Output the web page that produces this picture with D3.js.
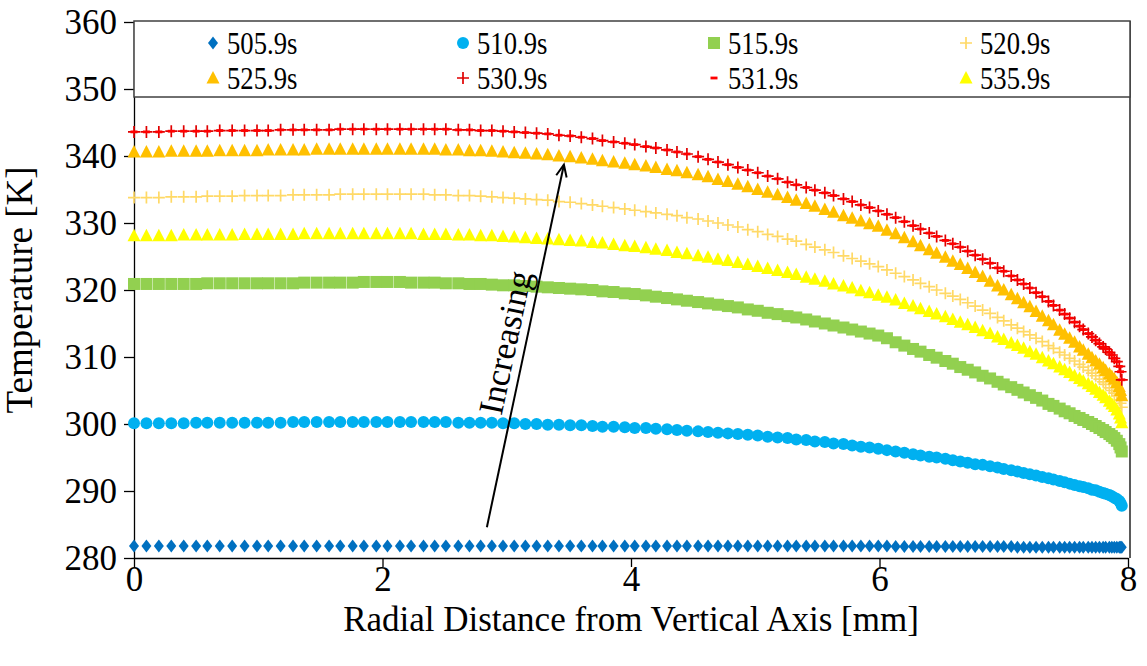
<!DOCTYPE html>
<html>
<head>
<meta charset="utf-8">
<script src="https://cdn.jsdelivr.net/npm/d3@7"></script>
<style>
  body { margin: 0; background: #fff; }
</style>
</head>
<body>
<svg id="chart" width="1147" height="666"></svg>
<script>
// radial positions of the mesh nodes [mm] (shared by every series)
const radius = [
  0, 0.10, 0.20, 0.30, 0.40, 0.50, 0.59, 0.69, 0.79, 0.89,
  0.99, 1.08, 1.18, 1.28, 1.37, 1.47, 1.57, 1.66, 1.76, 1.85,
  1.95, 2.04, 2.14, 2.23, 2.33, 2.42, 2.51, 2.61, 2.70, 2.79,
  2.88, 2.97, 3.06, 3.15, 3.24, 3.33, 3.42, 3.51, 3.60, 3.69,
  3.77, 3.86, 3.95, 4.03, 4.12, 4.20, 4.29, 4.37, 4.45, 4.54,
  4.62, 4.70, 4.78, 4.86, 4.94, 5.02, 5.10, 5.18, 5.26, 5.33,
  5.41, 5.48, 5.56, 5.63, 5.71, 5.78, 5.85, 5.92, 5.99, 6.06,
  6.13, 6.20, 6.27, 6.33, 6.40, 6.46, 6.53, 6.59, 6.65, 6.71,
  6.77, 6.83, 6.89, 6.95, 7.00, 7.06, 7.11, 7.16, 7.21, 7.26,
  7.31, 7.36, 7.40, 7.45, 7.49, 7.53, 7.57, 7.61, 7.64, 7.68,
  7.71, 7.74, 7.77, 7.80, 7.82, 7.85, 7.87, 7.89, 7.91, 7.93,
  7.94, 7.95
];

// temperature [K] at each node, one array per time step
const t505 = [
  281.8, 281.8, 281.8, 281.8, 281.8, 281.8, 281.8, 281.8, 281.8, 281.8,
  281.8, 281.8, 281.8, 281.8, 281.8, 281.8, 281.8, 281.8, 281.8, 281.8,
  281.8, 281.8, 281.8, 281.8, 281.8, 281.8, 281.8, 281.8, 281.8, 281.8,
  281.8, 281.8, 281.8, 281.8, 281.8, 281.8, 281.8, 281.8, 281.8, 281.8,
  281.8, 281.8, 281.8, 281.8, 281.8, 281.8, 281.8, 281.8, 281.8, 281.8,
  281.8, 281.8, 281.8, 281.8, 281.8, 281.8, 281.8, 281.8, 281.8, 281.8,
  281.8, 281.8, 281.8, 281.8, 281.8, 281.8, 281.8, 281.8, 281.8, 281.8,
  281.7, 281.7, 281.7, 281.7, 281.7, 281.7, 281.7, 281.7, 281.7, 281.7,
  281.7, 281.7, 281.7, 281.7, 281.7, 281.7, 281.6, 281.6, 281.6, 281.6,
  281.6, 281.6, 281.6, 281.6, 281.6, 281.6, 281.6, 281.6, 281.6, 281.6,
  281.6, 281.6, 281.6, 281.6, 281.6, 281.6, 281.6, 281.6, 281.6, 281.6,
  281.6, 281.6
];
const t510 = [
  300.1, 300.1, 300.1, 300.1, 300.1, 300.2, 300.2, 300.2, 300.2, 300.2,
  300.2, 300.2, 300.2, 300.3, 300.3, 300.3, 300.3, 300.3, 300.3, 300.3,
  300.3, 300.3, 300.3, 300.3, 300.3, 300.3, 300.3, 300.2, 300.2, 300.2,
  300.2, 300.1, 300.1, 300.0, 300.0, 299.9, 299.9, 299.8, 299.8, 299.7,
  299.6, 299.6, 299.5, 299.4, 299.4, 299.3, 299.2, 299.1, 299.0, 298.9,
  298.8, 298.7, 298.6, 298.5, 298.4, 298.3, 298.1, 298.0, 297.9, 297.7,
  297.6, 297.4, 297.3, 297.1, 297.0, 296.8, 296.6, 296.5, 296.3, 296.1,
  295.9, 295.7, 295.5, 295.3, 295.1, 295.0, 294.8, 294.6, 294.4, 294.2,
  294.0, 293.9, 293.7, 293.5, 293.3, 293.1, 292.9, 292.7, 292.5, 292.3,
  292.1, 291.9, 291.7, 291.5, 291.3, 291.1, 290.9, 290.7, 290.6, 290.4,
  290.2, 290.1, 289.9, 289.7, 289.6, 289.4, 289.2, 289.0, 288.8, 288.5,
  288.2, 287.8
];
const t515 = [
  320.9, 320.9, 320.9, 320.9, 320.9, 320.9, 321.0, 321.0, 321.0, 321.0,
  321.0, 321.0, 321.0, 321.0, 321.1, 321.1, 321.1, 321.1, 321.1, 321.2,
  321.2, 321.2, 321.2, 321.1, 321.1, 321.1, 321.0, 321.0, 320.9, 320.9,
  320.8, 320.7, 320.7, 320.6, 320.5, 320.4, 320.3, 320.2, 320.1, 320.0,
  319.8, 319.7, 319.5, 319.4, 319.2, 319.0, 318.8, 318.6, 318.4, 318.2,
  318.0, 317.8, 317.6, 317.4, 317.1, 316.9, 316.6, 316.4, 316.1, 315.9,
  315.6, 315.3, 315.0, 314.7, 314.4, 314.1, 313.8, 313.5, 313.2, 312.8,
  312.2, 311.7, 311.2, 310.8, 310.3, 309.9, 309.4, 309.0, 308.5, 308.1,
  307.7, 307.2, 306.8, 306.3, 305.9, 305.5, 305.1, 304.7, 304.3, 303.9,
  303.5, 303.0, 302.7, 302.3, 301.9, 301.6, 301.2, 300.9, 300.6, 300.3,
  300.0, 299.7, 299.4, 299.1, 298.8, 298.5, 298.2, 297.9, 297.5, 297.0,
  296.5, 295.9
];
const t520 = [
  333.8, 333.8, 333.8, 333.9, 333.9, 333.9, 334.0, 334.0, 334.0, 334.1,
  334.1, 334.1, 334.1, 334.2, 334.2, 334.2, 334.2, 334.3, 334.3, 334.3,
  334.3, 334.3, 334.3, 334.3, 334.3, 334.2, 334.2, 334.1, 334.1, 334.0,
  333.9, 333.8, 333.7, 333.6, 333.5, 333.4, 333.2, 333.1, 332.9, 332.7,
  332.5, 332.3, 332.1, 331.9, 331.7, 331.5, 331.3, 331.1, 330.8, 330.6,
  330.3, 330.0, 329.7, 329.4, 329.0, 328.7, 328.3, 328.0, 327.6, 327.3,
  326.8, 326.4, 326.0, 325.6, 325.1, 324.7, 324.3, 323.9, 323.5, 323.0,
  322.5, 322.0, 321.5, 321.0, 320.5, 320.0, 319.5, 319.1, 318.6, 318.1,
  317.6, 317.0, 316.5, 315.9, 315.4, 314.8, 314.3, 313.8, 313.3, 312.8,
  312.3, 311.7, 311.3, 310.7, 310.3, 309.8, 309.4, 308.9, 308.5, 308.0,
  307.6, 307.2, 306.7, 306.3, 305.9, 305.4, 305.0, 304.6, 304.2, 303.6,
  303.1, 302.5
];
const t525 = [
  340.6, 340.6, 340.6, 340.7, 340.7, 340.7, 340.7, 340.8, 340.8, 340.8,
  340.8, 340.9, 340.9, 340.9, 340.9, 341.0, 341.0, 341.0, 341.0, 341.0,
  341.0, 341.0, 341.0, 341.0, 341.0, 341.0, 340.9, 340.9, 340.8, 340.8,
  340.7, 340.6, 340.5, 340.4, 340.3, 340.2, 340.0, 339.9, 339.7, 339.5,
  339.3, 339.1, 338.9, 338.7, 338.5, 338.3, 338.0, 337.8, 337.5, 337.2,
  336.9, 336.5, 336.2, 335.8, 335.4, 335.0, 334.6, 334.2, 333.8, 333.4,
  332.9, 332.5, 332.0, 331.6, 331.1, 330.7, 330.3, 329.9, 329.5, 328.9,
  328.4, 327.8, 327.2, 326.6, 326.0, 325.5, 324.9, 324.3, 323.8, 323.2,
  322.6, 322.0, 321.3, 320.6, 320.0, 319.3, 318.7, 318.1, 317.5, 316.8,
  316.1, 315.4, 314.8, 314.0, 313.4, 312.8, 312.2, 311.5, 311.0, 310.4,
  309.9, 309.4, 308.9, 308.4, 308.0, 307.5, 307.1, 306.7, 306.2, 305.6,
  305.0, 304.2
];
const t530 = [
  343.6, 343.6, 343.6, 343.7, 343.7, 343.7, 343.7, 343.8, 343.8, 343.8,
  343.8, 343.8, 343.9, 343.9, 343.9, 343.9, 343.9, 344.0, 344.0, 344.0,
  344.0, 344.0, 344.0, 344.0, 344.0, 344.0, 344.0, 343.9, 343.9, 343.8,
  343.8, 343.7, 343.6, 343.5, 343.4, 343.3, 343.1, 343.0, 342.8, 342.6,
  342.3, 342.1, 341.9, 341.7, 341.4, 341.2, 340.9, 340.6, 340.3, 339.9,
  339.5, 339.1, 338.7, 338.3, 337.9, 337.5, 337.0, 336.6, 336.1, 335.7,
  335.3, 334.9, 334.5, 334.1, 333.6, 333.2, 332.7, 332.3, 331.8, 331.3,
  330.8, 330.2, 329.6, 329.1, 328.5, 328.0, 327.4, 326.9, 326.4, 325.8,
  325.2, 324.6, 324.0, 323.3, 322.8, 322.1, 321.5, 320.9, 320.3, 319.6,
  319.0, 318.3, 317.7, 317.0, 316.4, 315.8, 315.2, 314.6, 314.1, 313.5,
  313.0, 312.5, 312.0, 311.5, 311.2, 310.7, 310.3, 309.8, 309.3, 308.6,
  307.8, 306.6
];
const t531 = [
  343.6, 343.6, 343.6, 343.7, 343.7, 343.7, 343.7, 343.8, 343.8, 343.8,
  343.8, 343.8, 343.9, 343.9, 343.9, 343.9, 343.9, 344.0, 344.0, 344.0,
  344.0, 344.0, 344.0, 344.0, 344.0, 344.0, 344.0, 343.9, 343.9, 343.8,
  343.8, 343.7, 343.6, 343.5, 343.4, 343.3, 343.1, 343.0, 342.8, 342.6,
  342.3, 342.1, 341.9, 341.7, 341.4, 341.2, 340.9, 340.6, 340.3, 339.9,
  339.5, 339.1, 338.7, 338.3, 337.9, 337.5, 337.0, 336.6, 336.1, 335.7,
  335.3, 334.9, 334.5, 334.1, 333.6, 333.2, 332.7, 332.3, 331.8, 331.3,
  330.8, 330.2, 329.6, 329.1, 328.5, 328.0, 327.4, 326.9, 326.4, 325.8,
  325.2, 324.6, 324.0, 323.3, 322.8, 322.1, 321.5, 320.9, 320.3, 319.6,
  319.0, 318.3, 317.7, 317.0, 316.4, 315.8, 315.2, 314.6, 314.1, 313.5,
  313.0, 312.5, 312.0, 311.5, 311.2, 310.7, 310.3, 309.8, 309.3, 308.6,
  307.8, 306.6
];
const t535 = [
  328.1, 328.1, 328.1, 328.1, 328.2, 328.2, 328.2, 328.2, 328.2, 328.3,
  328.3, 328.3, 328.3, 328.3, 328.4, 328.4, 328.4, 328.4, 328.4, 328.4,
  328.4, 328.4, 328.4, 328.4, 328.3, 328.3, 328.3, 328.2, 328.2, 328.1,
  328.1, 328.0, 327.9, 327.8, 327.7, 327.6, 327.5, 327.4, 327.3, 327.1,
  327.0, 326.8, 326.6, 326.5, 326.3, 326.1, 325.9, 325.6, 325.4, 325.1,
  324.9, 324.6, 324.4, 324.1, 323.8, 323.5, 323.2, 322.9, 322.6, 322.3,
  321.9, 321.6, 321.3, 320.9, 320.6, 320.3, 319.9, 319.6, 319.2, 318.9,
  318.5, 318.0, 317.6, 317.2, 316.8, 316.4, 316.0, 315.6, 315.2, 314.8,
  314.4, 313.9, 313.5, 313.0, 312.6, 312.1, 311.7, 311.3, 310.8, 310.4,
  309.9, 309.4, 309.0, 308.5, 308.1, 307.7, 307.2, 306.8, 306.4, 306.0,
  305.6, 305.2, 304.7, 304.3, 303.9, 303.4, 303.0, 302.6, 302.1, 301.5,
  300.9, 300.2
];

const seriesNames = ['505.9s', '510.9s', '515.9s', '520.9s', '525.9s', '530.9s', '531.9s', '535.9s'];
const seriesColors = ['#0070C0', '#00B0F0', '#92D050', '#FFD966', '#FFC000', '#E00000', '#FF0000', '#FFFF00'];
const seriesShapes = ['diamond', 'circle', 'square', 'plus', 'triangle', 'plus', 'dash', 'triangle'];
const seriesValues = [t505, t510, t515, t520, t525, t530, t531, t535];

const xTicks = [0, 2, 4, 6, 8];
const yTicks = [280, 290, 300, 310, 320, 330, 340, 350, 360];

const series = seriesNames.map((name, i) => {
  return {
    name: name,
    color: seriesColors[i],
    shape: seriesShapes[i],
    points: radius.map((r, j) => { return { x: r, y: seriesValues[i][j] }; })
  };
});

const W = 1147, H = 666;
const margin = { left: 134, right: 17, top: 22, bottom: 108 };
const FONT_FAMILY = '"Liberation Serif", "Times New Roman", Times, serif';
const FONT = 35;

const svg = d3.select('#chart');

const xScale = d3.scaleLinear().domain([0, 8]).range([margin.left, W - margin.right - 2]);
const yScale = d3.scaleLinear().domain([280, 360]).range([H - margin.bottom, margin.top]);

function styleText(sel, size) {
  sel.style('font-family', FONT_FAMILY).style('font-size', `${ size }px`).style('fill', '#000');
}

function drawMarker(g, shape, color) {
  if (shape === 'diamond') {
    g.append('path').attr('d', 'M0,-6.5L5,0L0,6.5L-5,0Z').attr('fill', color);
  } else if (shape === 'circle') {
    g.append('circle').attr('r', 6).attr('fill', color);
  } else if (shape === 'square') {
    g.append('rect').attr('x', -6).attr('y', -6).attr('width', 12).attr('height', 12).attr('fill', color);
  } else if (shape === 'triangle') {
    g.append('path').attr('d', 'M0,-7L6.5,5.5L-6.5,5.5Z').attr('fill', color);
  } else if (shape === 'plus') {
    g.append('path').attr('d', 'M-6,0H6M0,-6V6')
      .attr('stroke', color).attr('stroke-width', 1.7).attr('fill', 'none');
  } else if (shape === 'dash') {
    g.append('rect').attr('x', -3.5).attr('y', -1.4).attr('width', 7).attr('height', 2.8).attr('fill', color);
  }
}

// axes
const yAxis = d3.axisLeft(yScale).tickValues(yTicks).tickSize(10).tickSizeOuter(0).tickPadding(7);
const xAxis = d3.axisBottom(xScale).tickValues(xTicks).tickSize(9).tickSizeOuter(0).tickPadding(-1);

const yAxisG = svg.append('g').attr('transform', `translate(${ margin.left },0)`).call(yAxis);
const xAxisG = svg.append('g').attr('transform', `translate(0,${ yScale(280) })`).call(xAxis);

[yAxisG, xAxisG].forEach((g) => {
  g.select('.domain').attr('stroke', '#000').attr('stroke-width', 1.3);
  g.selectAll('.tick line').attr('stroke', '#000').attr('stroke-width', 1.3);
  g.selectAll('.tick text').call(styleText, FONT);
});
yAxisG.selectAll('.tick text').attr('dy', '0.34em');

// right frame line
svg.append('line')
  .attr('x1', xScale(8) + 2).attr('x2', xScale(8) + 2)
  .attr('y1', yScale(360) - 1).attr('y2', yScale(280))
  .attr('stroke', '#000').attr('stroke-width', 1.3);

// series markers
const plot = svg.append('g').attr('class', 'g-chart-points');
series.forEach((s) => {
  const sg = plot.append('g').attr('class', `series series-${ s.name.replace('.', '-') }`);
  s.points.forEach((p) => {
    const g = sg.append('g').attr('transform', `translate(${ xScale(p.x) },${ yScale(p.y) })`);
    drawMarker(g, s.shape, s.color);
  });
});

// legend box across the top of the plot
const legendTop = yScale(360) - 1;
const legend = svg.append('g').attr('class', 'legend');
legend.append('rect')
  .attr('x', margin.left).attr('y', legendTop)
  .attr('width', xScale(8) + 2 - margin.left).attr('height', 76)
  .attr('fill', '#fff').attr('stroke', '#404040').attr('stroke-width', 1.5);

// legend labels are drawn narrower than the rest of the text
const legendCols = [213, 463, 714, 966];
const legendRows = [43, 78];
const legendSqueeze = 0.86;
series.forEach((s, i) => {
  const cx = legendCols[i % 4];
  const cy = legendRows[Math.floor(i / 4)];
  const g = legend.append('g').attr('transform', `translate(${ cx },${ cy })`);
  drawMarker(g, s.shape, s.color);
  legend.append('g')
    .attr('transform', `translate(${ cx + 14 },${ cy }) scale(${ legendSqueeze },1)`)
    .append('text')
      .attr('dy', '0.35em')
      .call(styleText, 31)
      .text(s.name);
});

// axis titles
svg.append('text')
  .attr('x', (xScale(0) + xScale(8)) / 2).attr('y', 631)
  .attr('text-anchor', 'middle')
  .call(styleText, FONT)
  .text('Radial Distance from Vertical Axis [mm]');

svg.append('text')
  .attr('transform', `translate(32,${ yScale(320) }) rotate(-90)`)
  .attr('text-anchor', 'middle')
  .call(styleText, 37)
  .text('Temperature [K]');

// "Increasing" annotation arrow
const arrowFrom = { x: 2.84, y: 284.6 };
const arrowTo = { x: 3.46, y: 338.7 };
const ax1 = xScale(arrowFrom.x), ay1 = yScale(arrowFrom.y);
const ax2 = xScale(arrowTo.x), ay2 = yScale(arrowTo.y);
const ang = Math.atan2(ay2 - ay1, ax2 - ax1);
const headLen = 13, headSpread = 0.42;

svg.append('line')
  .attr('x1', ax1).attr('y1', ay1).attr('x2', ax2).attr('y2', ay2)
  .attr('stroke', '#000').attr('stroke-width', 2);
svg.append('path')
  .attr('d', `M${ ax2 - headLen * Math.cos(ang - headSpread) },${ ay2 - headLen * Math.sin(ang - headSpread) }` +
    `L${ ax2 },${ ay2 }` +
    `L${ ax2 - headLen * Math.cos(ang + headSpread) },${ ay2 - headLen * Math.sin(ang + headSpread) }`)
  .attr('stroke', '#000').attr('stroke-width', 2).attr('fill', 'none');

const labelPos = { x: 3.08, y: 311.8 };
svg.append('text')
  .attr('transform', `translate(${ xScale(labelPos.x) },${ yScale(labelPos.y) }) rotate(${ ang * 180 / Math.PI })`)
  .attr('text-anchor', 'middle')
  .call(styleText, FONT)
  .text('Increasing');
</script>
</body>
</html>
